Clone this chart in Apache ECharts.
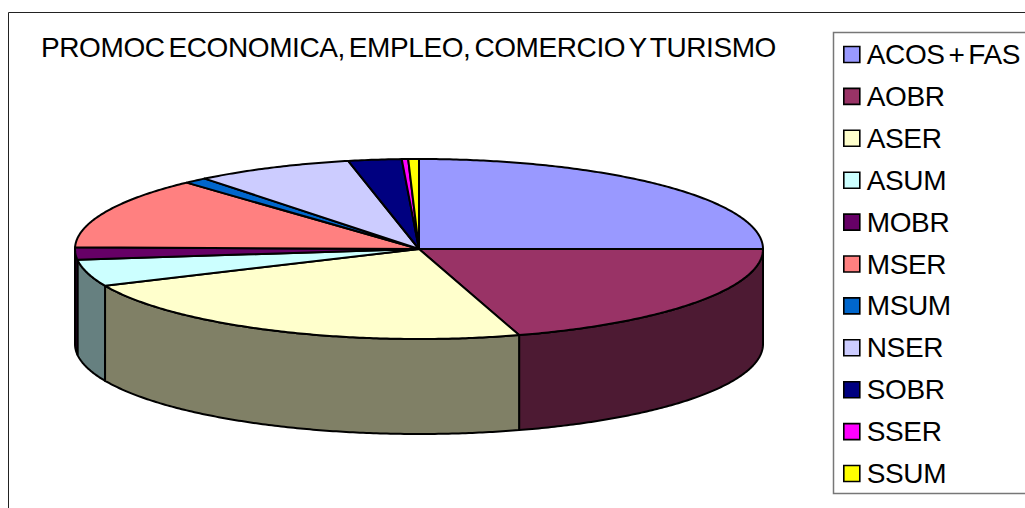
<!DOCTYPE html>
<html>
<head>
<meta charset="utf-8">
<style>
html,body{margin:0;padding:0;background:#fff;overflow:hidden}
#c{width:1025px;height:508px}
#c svg text{letter-spacing:-0.4px;word-spacing:-3.5px}
</style>
<script src="https://cdn.jsdelivr.net/npm/echarts@6/dist/echarts.min.js"></script>
</head>
<body>
<div id="c"></div>
<script>
const titleText = 'PROMOC ECONOMICA, EMPLEO, COMERCIO Y TURISMO';
const categories = ['ACOS + FAS','AOBR','ASER','ASUM','MOBR','MSER','MSUM','NSER','SOBR','SSER','SSUM'];
const values = [25.0,20.3,23.0,4.8,2.2,12.9,1.1,7.4,2.5,0.3,0.5];
const colors = ['#9999FF','#993366','#FFFFCC','#CCFFFF','#660066','#FF8080','#0066CC','#CCCCFF','#000080','#FF00FF','#FFFF00'];

const CX = 419, CY = 249, RX = 344, RY = 90, DEPTH = 95, LW = 2;
const total = values.reduce((a,b)=>a+b,0);
const toAngle = v => echarts.number.linearMap(v,[0,total],[0,Math.PI*2]);
const pt = (t,dy) => [CX+RX*Math.sin(t), CY-RY*Math.cos(t)+dy];
function arc(a,b,dy){
  const n = Math.max(2,Math.ceil(Math.abs(b-a)/0.01)), out=[];
  for(let i=0;i<=n;i++) out.push(pt(a+(b-a)*i/n,dy));
  return out;
}
function shade(c){
  const p = echarts.color.parse(c);
  return 'rgb('+Math.round(p[0]/2)+','+Math.round(p[1]/2)+','+Math.round(p[2]/2)+')';
}
function renderSlice(params, api){
  const i = params.seriesIndex;
  const before = values.slice(0,i).reduce((a,b)=>a+b,0);
  const a = toAngle(before), b = toAngle(before+api.value(0));
  const fill = colors[i], children=[];
  const lo = Math.max(a,Math.PI/2), hi = Math.min(b,Math.PI*1.5);
  if(hi>lo){
    children.push({type:'polygon',shape:{points:arc(lo,hi,0).concat(arc(hi,lo,DEPTH))},
      style:{fill:shade(fill),stroke:'#000',lineWidth:LW,lineJoin:'round'}});
  }
  children.push({type:'polygon',shape:{points:[[CX,CY]].concat(arc(a,b,0))},
    style:{fill:fill,stroke:'#000',lineWidth:LW,lineJoin:'round'}});
  return {type:'group',children};
}
const chart = echarts.init(document.getElementById('c'),null,{renderer:'svg',width:1025,height:508});
chart.setOption({
  animation:false,
  backgroundColor:'#fff',
  title:{text:titleText,left:41,top:33,padding:0,
    textStyle:{fontFamily:'Liberation Sans',fontSize:28,fontWeight:'normal',color:'#000'}},
  legend:{orient:'vertical',left:843,top:40.5,padding:0,itemGap:13.9,itemWidth:16,itemHeight:16,
    icon:'rect',selectedMode:false,data:categories,
    itemStyle:{borderColor:'#000',borderWidth:1.6},
    textStyle:{fontFamily:'Liberation Sans',fontSize:28,color:'#000',padding:[0,0,0,2]}},
  graphic:[
    {type:'rect',z:-1,shape:{x:8.5,y:12.5,width:1100,height:600},style:{fill:'#fff',stroke:'#222',lineWidth:1}},
    {type:'rect',z:-1,shape:{x:833.5,y:32.5,width:300,height:461},style:{fill:'#fff',stroke:'#777',lineWidth:1.5}}
  ],
  series:categories.map((name,i)=>({
    type:'custom',name,coordinateSystem:'none',silent:true,
    itemStyle:{color:colors[i]},
    data:[[values[i]]],
    renderItem:renderSlice
  }))
});
</script>
</body>
</html>
